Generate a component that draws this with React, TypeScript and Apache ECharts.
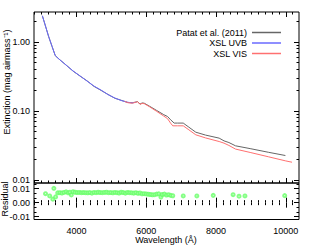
import React, { useEffect, useRef } from 'react';
import * as echarts from 'echarts';

// Patat et al. (2011) extinction curve
const patatWave = [3020, 3100, 3200, 3300, 3390, 3500, 3700, 3900, 4100, 4300, 4500, 4700, 4900, 5100, 5300, 5470, 5600, 5700, 5750, 5790, 5820, 5880, 5940, 6100, 6300, 6500, 6610, 6700, 6800, 6900, 7060, 7200, 7420, 7700, 8090, 8230, 8370, 8560, 9000, 9500, 9990];
const patatVal = [2.38, 1.75, 1.19, 0.85, 0.63, 0.56, 0.46, 0.376, 0.319, 0.272, 0.226, 0.198, 0.173, 0.152, 0.141, 0.132, 0.131, 0.134, 0.136, 0.13, 0.125, 0.13, 0.129, 0.116, 0.101, 0.088, 0.0827, 0.074, 0.0664, 0.0664, 0.0664, 0.059, 0.049, 0.0445, 0.0402, 0.0367, 0.0347, 0.0311, 0.0282, 0.0251, 0.0225];

// XSL UVB arm
const uvbWave = [3020, 3100, 3200, 3300, 3390, 3500, 3700, 3900, 4100, 4300, 4500, 4700, 4900, 5100, 5300, 5470, 5600, 5700];
const uvbVal = [2.38, 1.75, 1.19, 0.85, 0.63, 0.56, 0.46, 0.378, 0.32, 0.27, 0.228, 0.2, 0.172, 0.153, 0.14, 0.133, 0.13, 0.133];

// XSL VIS arm
const visWave = [5380, 5470, 5600, 5700, 5750, 5790, 5820, 5880, 5940, 6100, 6300, 6500, 6610, 6700, 6760, 6900, 7060, 7200, 7420, 7700, 8090, 8230, 8370, 8560, 9000, 9500, 10000, 10180];
const visVal = [0.137, 0.131, 0.129, 0.133, 0.135, 0.129, 0.124, 0.128, 0.127, 0.114, 0.098, 0.084, 0.077, 0.066, 0.0606, 0.0606, 0.0606, 0.054, 0.0449, 0.0405, 0.0359, 0.034, 0.0315, 0.0279, 0.0248, 0.0216, 0.0188, 0.018];

// Residuals
const resWave = [3110, 3230, 3320, 3350, 3400, 3460, 3520, 3580, 3640, 3700, 3760, 3810, 3850, 3900, 3960, 4020, 4080, 4140, 4200, 4260, 4320, 4380, 4440, 4500, 4560, 4620, 4680, 4740, 4800, 4860, 4920, 4980, 5040, 5100, 5160, 5220, 5280, 5340, 5400, 5460, 5520, 5580, 5640, 5700, 5760, 5820, 5880, 5940, 6000, 6060, 6120, 6180, 6240, 6300, 6360, 6420, 6460, 6520, 6580, 6640, 6700, 6760, 7060, 7450, 7920, 8490, 8660, 8830, 9970];
const resVal = [0.0064, 0.0048, 0.0025, 0.0102, 0.0041, 0.007, 0.0071, 0.0069, 0.0073, 0.0077, 0.007, 0.0074, 0.0055, 0.0078, 0.0074, 0.0072, 0.0073, 0.0071, 0.0072, 0.0071, 0.007, 0.0072, 0.0068, 0.0073, 0.0071, 0.0074, 0.0072, 0.0071, 0.0073, 0.0074, 0.0071, 0.0072, 0.007, 0.0073, 0.0071, 0.0069, 0.0074, 0.0072, 0.0068, 0.0073, 0.0071, 0.007, 0.0068, 0.0071, 0.0067, 0.0069, 0.0063, 0.0064, 0.0062, 0.006, 0.0058, 0.0056, 0.0057, 0.0061, 0.0063, 0.004, 0.0058, 0.0061, 0.0054, 0.0057, 0.0052, 0.0049, 0.0048, 0.0048, 0.0052, 0.0057, 0.0046, 0.0048, 0.005];

// Tick values
const xMajor = [4000, 6000, 8000, 10000];
const yTopMajor = [0.01, 0.1, 1];
const yBotMajor = [-0.01, 0, 0.01];

const X_MIN = 2780;
const X_MAX = 10380;
const YT_MIN = 0.009;
const YT_MAX = 2.7;
const YB_MIN = -0.012;
const YB_MAX = 0.014;

const FONT = '"Liberation Sans", Arial, sans-serif';

function zip(xs: number[], ys: number[]) {
  return xs.map((x, i) => [x, ys[i]]);
}

export default function App() {
  const ref = useRef<HTMLDivElement>(null);
  useEffect(() => {
    if (!ref.current) return;
    const chart = echarts.init(ref.current, undefined, { renderer: 'svg' });

    const xMinor: number[] = [];
    for (let w = 2800; w <= X_MAX; w += 200) if (!xMajor.includes(w)) xMinor.push(w);
    const yTopMinor: number[] = [];
    yTopMajor.forEach((d) => {
      for (let k = 2; k <= 9; k++) {
        const v = d * k;
        if (v >= YT_MIN && v <= YT_MAX) yTopMinor.push(v);
      }
    });
    const yBotMinor = [-0.01 / 3 * 2, -0.01 / 3, 0.01 / 3, 0.02 / 3, 0.04 / 3].filter((v) => v >= YB_MIN && v <= YB_MAX);

    const tickStyle = { color: '#000', width: 1 };
    const xAx = (grid: number, pos: string, vals: number[], len: number, labels: boolean) => ({
      type: 'value', gridIndex: grid, position: pos, min: X_MIN, max: X_MAX,
      axisLine: { show: false }, splitLine: { show: false },
      axisTick: { show: true, inside: true, length: len, customValues: vals, lineStyle: tickStyle },
      axisLabel: labels
        ? { show: true, customValues: xMajor, fontSize: 9, color: '#000', margin: 7, fontFamily: FONT,
            formatter: (v: number) => String(Math.round(v)) }
        : { show: false },
    });
    const yAx = (grid: number, pos: string, vals: number[], len: number, labels: number[] | null, log: boolean) => ({
      type: log ? 'log' : 'value', logBase: 10, gridIndex: grid, position: pos,
      min: log ? YT_MIN : YB_MIN, max: log ? YT_MAX : YB_MAX,
      axisLine: { show: false }, splitLine: { show: false },
      axisTick: { show: true, inside: true, length: len, customValues: vals, lineStyle: tickStyle },
      axisLabel: labels
        ? { show: true, customValues: labels, fontSize: 9, color: '#000', margin: 4, fontFamily: FONT,
            formatter: (v: number) => (Math.abs(v) < 1e-9 ? 0 : v).toFixed(2) }
        : { show: false },
    });

    const option = {
      animation: false,
      backgroundColor: '#fff',
      textStyle: { fontFamily: FONT },
      grid: [
        { left: 34, right: 34, top: 12, height: 171, show: true, borderColor: '#000', borderWidth: 1, containLabel: false },
        { left: 34, right: 34, top: 183, height: 36.5, show: true, borderColor: '#000', borderWidth: 1, containLabel: false },
      ],
      xAxis: [
        xAx(0, 'bottom', xMajor, 5, false),
        xAx(0, 'bottom', xMinor, 2.5, false),
        xAx(0, 'top', xMajor, 5, false),
        xAx(0, 'top', xMinor, 2.5, false),
        xAx(1, 'bottom', xMajor, 5, true),
        xAx(1, 'bottom', xMinor, 2.5, false),
        xAx(1, 'top', xMajor, 5, false),
        xAx(1, 'top', xMinor, 2.5, false),
      ],
      yAxis: [
        yAx(0, 'left', yTopMajor, 5, yTopMajor, true),
        yAx(0, 'left', yTopMinor, 2.5, null, true),
        yAx(0, 'right', yTopMajor, 5, null, true),
        yAx(0, 'right', yTopMinor, 2.5, null, true),
        yAx(1, 'left', yBotMajor, 5, yBotMajor, false),
        yAx(1, 'left', yBotMinor, 2.5, null, false),
        yAx(1, 'right', yBotMajor, 5, null, false),
        yAx(1, 'right', yBotMinor, 2.5, null, false),
      ],
      legend: {
        data: ['Patat et al. (2011)', 'XSL UVB', 'XSL VIS'],
        orient: 'vertical', right: 52, top: 28, align: 'right',
        itemWidth: 29, itemHeight: 1.5, itemGap: 1.5, padding: 0,
        icon: 'rect',
        textStyle: { fontSize: 9, color: '#000', fontFamily: FONT },
      },
      series: [
        {
          name: 'Patat et al. (2011)', type: 'line', xAxisIndex: 0, yAxisIndex: 0,
          data: zip(patatWave, patatVal), showSymbol: false, symbol: 'none',
          color: '#666', lineStyle: { color: '#666', width: 1 },
        },
        {
          name: 'XSL UVB', type: 'line', xAxisIndex: 0, yAxisIndex: 0,
          data: zip(uvbWave, uvbVal), showSymbol: false, symbol: 'none',
          color: '#6a6aff', lineStyle: { color: '#6a6aff', width: 1 },
        },
        {
          name: 'XSL VIS', type: 'line', xAxisIndex: 0, yAxisIndex: 0,
          data: zip(visWave, visVal), showSymbol: false, symbol: 'none',
          color: '#ff7070', lineStyle: { color: '#ff7070', width: 1 },
        },
        {
          name: 'Residual', type: 'scatter', xAxisIndex: 4, yAxisIndex: 4,
          data: zip(resWave, resVal), symbol: 'emptyCircle', symbolSize: 3,
          itemStyle: { color: '#66ff66', borderColor: '#66ff66', borderWidth: 0.8 },
        },
      ],
      graphic: [
        {
          type: 'text', x: 7, y: 82, rotation: Math.PI / 2,
          style: { text: 'Extinction (mag airmass⁻¹)', fontSize: 9, fill: '#000', fontFamily: FONT, align: 'center', verticalAlign: 'middle' },
        },
        {
          type: 'text', x: 5, y: 199, rotation: Math.PI / 2,
          style: { text: 'Residual', fontSize: 9, fill: '#000', fontFamily: FONT, align: 'center', verticalAlign: 'middle' },
        },
        {
          type: 'text', x: 166, y: 239.5,
          style: { text: 'Wavelength (Å)', fontSize: 9, fill: '#000', fontFamily: FONT, align: 'center', verticalAlign: 'middle' },
        },
      ],
    };
    chart.setOption(option as any);
    return () => chart.dispose();
  }, []);
  return <div ref={ref} style={{ width: 333, height: 245, position: 'absolute', left: 0, top: 0 }} />;
}
